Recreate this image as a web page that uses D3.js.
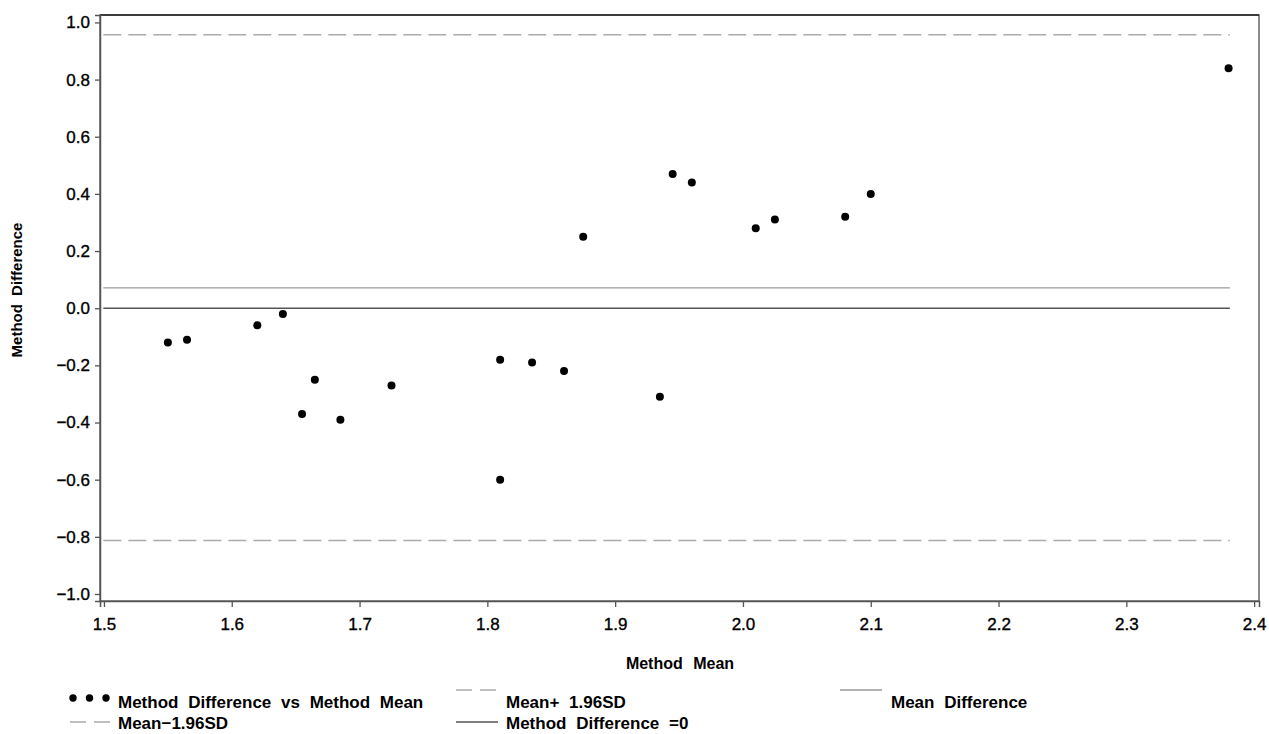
<!DOCTYPE html>
<html>
  <head>
    <meta charset="utf-8">
    <title>Method Difference vs Method Mean</title>
    <script src="https://cdn.jsdelivr.net/npm/d3@7"></script>
    <style>
      body { margin: 0; background: #fff; }
      svg text { font-family: "Liberation Sans", Arial, sans-serif; fill: #000; }
      .tick text { font-size: 17px; stroke: #000; stroke-width: 0.35px; }
      .ttl { font-size: 15px; font-weight: bold; word-spacing: 4px; }
      .ttl.xt { font-size: 16px; word-spacing: 6px; }
      .leg { font-size: 17px; font-weight: bold; word-spacing: 5px; }
    </style>
  </head>
  <body>
    <div id="chart"></div>
    <script>
      // points
      var methodMean = [1.55, 1.565, 1.62, 1.64, 1.655, 1.665, 1.685, 1.725, 1.81, 1.81, 1.835,
                        1.86, 1.875, 1.935, 1.945, 1.96, 2.01, 2.025, 2.08, 2.10, 2.38];
      var methodDiff = [-0.12, -0.11, -0.06, -0.02, -0.37, -0.25, -0.39, -0.27, -0.18, -0.60, -0.19,
                        -0.22, 0.25, -0.31, 0.47, 0.44, 0.28, 0.31, 0.32, 0.40, 0.84];

      // reference lines
      var meanDiff = 0.071;
      var upperLimit = 0.957;
      var lowerLimit = -0.813;
      var lineSpan = [1.4995, 2.381];

      var xTicks = [1.5, 1.6, 1.7, 1.8, 1.9, 2.0, 2.1, 2.2, 2.3, 2.4];
      var yTicks = [-1.0, -0.8, -0.6, -0.4, -0.2, 0.0, 0.2, 0.4, 0.6, 0.8, 1.0];

      var legendItems = ["Method Difference vs Method Mean", "Mean+ 1.96SD", "Mean Difference",
                         "Mean\u22121.96SD", "Method Difference =0"];

      var W = 1269, H = 734;
      var plot = {left: 100, right: 1259, top: 15, bottom: 601};

      var x = d3.scaleLinear().domain([1.4969, 2.4038]).range([plot.left, plot.right]);
      var y = d3.scaleLinear().domain([-1.0245, 1.026]).range([plot.bottom, plot.top]);

      var svg = d3.select("#chart").append("svg")
          .attr("width", W)
          .attr("height", H);

      // frame
      svg.append("rect")
          .attr("x", plot.left).attr("y", plot.top)
          .attr("width", plot.right - plot.left).attr("height", plot.bottom - plot.top)
          .attr("fill", "none").attr("stroke", "#666").attr("stroke-width", 1.5);
      svg.append("line")
          .attr("x1", plot.left).attr("x2", plot.right)
          .attr("y1", plot.top).attr("y2", plot.top)
          .attr("stroke", "#222").attr("stroke-width", 1.5);

      // reference lines
      var refs = [
        {v: upperLimit, color: "#aaa", dash: "18,7", w: 1.5},
        {v: lowerLimit, color: "#aaa", dash: "18,7", w: 1.5},
        {v: meanDiff, color: "#999", dash: null, w: 1.3},
        {v: 0, color: "#555", dash: null, w: 1.5}
      ];
      svg.selectAll(".ref")
          .data(refs)
          .enter().append("line")
          .attr("class", "ref")
          .attr("x1", x(lineSpan[0])).attr("x2", x(lineSpan[1]))
          .attr("y1", function(d) { return y(d.v); })
          .attr("y2", function(d) { return y(d.v); })
          .attr("stroke", function(d) { return d.color; })
          .attr("stroke-width", function(d) { return d.w; })
          .attr("stroke-dasharray", function(d) { return d.dash; });

      // axes
      var fmt = d3.format(".1f");
      var xAxis = d3.axisBottom(x).tickValues(xTicks).tickFormat(fmt).tickSizeOuter(0).tickSize(6).tickPadding(11);
      var yAxis = d3.axisLeft(y).tickValues(yTicks).tickFormat(fmt).tickSizeOuter(0).tickSize(5).tickPadding(5);

      var gx = svg.append("g")
          .attr("transform", "translate(0," + plot.bottom + ")")
          .call(xAxis);
      var gy = svg.append("g")
          .attr("transform", "translate(" + plot.left + ",0)")
          .call(yAxis);
      [gx, gy].forEach(function(g) {
        g.select(".domain").attr("stroke", "#555").attr("stroke-width", 1.5);
        g.selectAll(".tick line").attr("stroke", "#555").attr("stroke-width", 1.3);
      });

      // points
      svg.selectAll(".pt")
          .data(methodMean)
          .enter().append("circle")
          .attr("class", "pt")
          .attr("cx", function(d) { return x(d); })
          .attr("cy", function(d, i) { return y(methodDiff[i]); })
          .attr("r", 4)
          .attr("fill", "#000");

      // titles
      svg.append("text")
          .attr("class", "ttl xt")
          .attr("x", 680).attr("y", 669)
          .attr("text-anchor", "middle")
          .text("Method Mean");
      svg.append("text")
          .attr("class", "ttl")
          .attr("transform", "translate(22,290) rotate(-90)")
          .attr("text-anchor", "middle")
          .text("Method Difference");

      // legend
      var legPos = [
        {sx: 70, tx: 118, y: 708, kind: "dots"},
        {sx: 456, tx: 506, y: 708, kind: "dash"},
        {sx: 840, tx: 891, y: 708, kind: "mean"},
        {sx: 70, tx: 118, y: 729, kind: "dash"},
        {sx: 456, tx: 506, y: 729, kind: "zero"}
      ];
      var leg = svg.selectAll(".legitem")
          .data(legendItems)
          .enter().append("g")
          .attr("class", "legitem");

      leg.each(function(d, i) {
        var p = legPos[i];
        var g = d3.select(this);
        if (p.kind === "dots") {
          g.selectAll("circle").data([0, 1, 2]).enter().append("circle")
              .attr("cx", function(k) { return p.sx + 3 + k * 16.5; })
              .attr("cy", p.y - 10)
              .attr("r", 3.7)
              .attr("fill", "#000");
        } else {
          var st = refs[p.kind === "dash" ? 0 : (p.kind === "mean" ? 2 : 3)];
          var ly = p.y - (i < 3 ? 18 : 7);
          g.append("line")
              .attr("x1", p.sx).attr("x2", p.sx + 42)
              .attr("y1", ly).attr("y2", ly)
              .attr("stroke", st.color)
              .attr("stroke-width", st.w)
              .attr("stroke-dasharray", st.dash ? "16,8" : null);
        }
        g.append("text")
            .attr("class", "leg")
            .attr("x", p.tx).attr("y", p.y)
            .text(d);
      });
    </script>
  </body>
</html>
